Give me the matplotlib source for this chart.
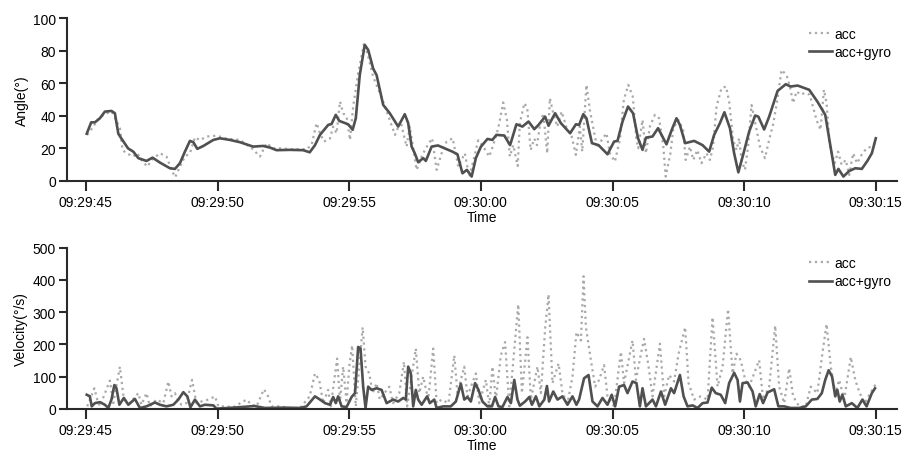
import matplotlib

matplotlib.use("Agg")
import matplotlib.dates as mdates
import matplotlib.pyplot as plt
import pandas as pd

plt.rcParams["font.family"] = ["Liberation Sans", "DejaVu Sans"]
plt.rcParams["font.size"] = 10

START = pd.Timestamp("2021-01-01 09:29:45")

# angle, acc+gyro (seconds after 09:29:45, degrees)
ang_fused_t = [0.03, 0.2, 0.34, 0.53, 0.72, 0.97, 1.1, 1.23, 1.35, 1.6, 1.8, 1.99, 2.3, 2.53,
               2.81, 3.19, 3.38, 3.57, 3.76, 3.95, 4.08, 4.23, 4.46, 4.84, 5.09, 5.47, 5.85,
               6.35, 6.73, 6.99, 7.24, 7.75, 8.25, 8.5, 8.7, 8.89, 9.2, 9.33, 9.49, 9.62, 9.77,
               9.96, 10.13, 10.25, 10.4, 10.59, 10.72, 10.91, 11.04, 11.29, 11.54, 11.86,
               12.11, 12.24, 12.37, 12.49, 12.62, 12.81, 12.91, 13.13, 13.37, 13.92, 14.11,
               14.3, 14.47, 14.65, 14.81, 15.0, 15.25, 15.44, 15.59, 15.89, 16.11, 16.35,
               16.58, 16.81, 17.03, 17.19, 17.44, 17.57, 17.82, 18.04, 18.39, 18.61, 18.73,
               18.89, 19.01, 19.22, 19.47, 19.81, 20.06, 20.19, 20.38, 20.59, 20.78, 20.97,
               21.14, 21.27, 21.52, 21.73, 22.05, 22.25, 22.43, 22.56, 22.76, 23.1, 23.42,
               23.67, 23.86, 24.08, 24.25, 24.46, 24.62, 24.78, 24.96, 25.19, 25.42, 25.54,
               25.76, 25.95, 26.27, 26.58, 26.77, 27.03, 27.47, 27.78, 28.08, 28.29, 28.46,
               28.58, 28.77, 28.99, 29.22, 29.47, 29.68, 29.85, 30.0]
ang_fused_v = [29, 36, 36, 38.5, 42.6, 43, 41.6, 29, 26, 20, 18, 14, 12.3, 14.3,
               11.3, 7.8, 7.4, 10.9, 18, 24.6, 23.8, 19.7, 21.5, 25.2, 26.2, 25.2, 23.8,
               21.1, 21.5, 20.5, 18.9, 19.1, 18.9, 17.6, 22, 28.3, 34.4, 35, 40.6, 36.9, 36,
               34.8, 31.4, 38.5, 65, 83.6, 80.5, 69, 65, 46.7, 41.6, 33.4,
               41, 35.5, 21.1, 17, 11.5, 14, 12.3, 21.1, 21.8, 18, 16.4,
               4.7, 6.8, 2.7, 14, 21, 25.8, 25.2, 28.3, 27.9, 22, 34.8,
               33.4, 36.5, 31.8, 34.4, 39.5, 34, 41.6, 35.5, 29.3, 34.8, 34.4,
               41, 38.5, 23.2, 22, 16.4, 24.2, 24.6, 36.5, 45.7, 41.6, 26.2,
               19.1, 26.6, 27.3, 32.4, 22.5, 31.4, 38.5, 34.4, 23.2, 24.6, 22,
               18, 28.3, 35.5, 42.2, 32.4, 17, 5.3, 16, 30.3, 40.2, 39.5,
               31.6, 39.5, 55.3, 59.4, 58, 58.6, 56, 48.8, 40.6, 20, 3.7,
               7.4, 2.7, 6.1, 7.8, 7.4, 12.3, 17, 26.2]

# angle, acc only
ang_acc_t = [0.05, 0.28, 0.47, 0.7, 0.98, 1.17, 1.29, 1.39, 1.54, 1.8, 1.95, 2.11, 2.33, 2.5,
             2.81, 3.06, 3.25, 3.39, 3.57, 3.76, 3.95, 4.14, 4.33, 4.58, 4.96, 5.34, 5.85,
             6.3, 6.61, 6.86, 7.11, 7.37, 7.8, 8.38, 8.57, 8.76, 8.89, 9.04, 9.27, 9.39,
             9.52, 9.65, 9.77, 9.9, 10.03, 10.15, 10.34, 10.57, 10.72, 10.91, 11.29, 11.74,
             11.95, 12.18, 12.3, 12.56, 12.75, 12.91, 13.15, 13.32, 13.51, 13.7, 13.93,
             14.14, 14.39, 14.56, 14.74, 14.9, 15.09, 15.32, 15.47, 15.66, 15.85, 15.99,
             16.1, 16.23, 16.4, 16.48, 16.65, 16.76, 16.89, 17.03, 17.13, 17.24, 17.37,
             17.52, 17.62, 17.75, 17.9, 18.07, 18.26, 18.45, 18.61, 18.76, 18.85, 19.01,
             19.14, 19.27, 19.42, 19.59, 19.77, 19.9, 20.09, 20.28, 20.43, 20.6, 20.77,
             20.91, 20.98, 21.14, 21.27, 21.42, 21.61, 21.77, 21.93, 22.02, 22.2, 22.31,
             22.5, 22.68, 22.78, 22.94, 23.07, 23.22, 23.38, 23.57, 23.7, 23.82, 23.95,
             24.14, 24.31, 24.43, 24.58, 24.71, 24.81, 24.9, 25.03, 25.15, 25.28, 25.41,
             25.6, 25.79, 25.92, 26.11, 26.26, 26.42, 26.61, 26.74, 26.86, 26.99, 27.14,
             27.3, 27.49, 27.75, 27.9, 28.03, 28.13, 28.25, 28.44, 28.57, 28.7, 28.86,
             28.99, 29.14, 29.29, 29.46, 29.65, 29.84, 29.97]
ang_acc_v = [28.3, 33.4, 38, 41, 42.6, 36.5, 32.4, 19, 17, 15, 17, 12.9, 8.8, 12.9,
             17, 15, 6.8, 2.3, 8.8, 15, 17, 26.8, 25, 27.3, 27.8, 26, 25.2,
             20.1, 15, 23.2, 20.1, 20, 19.5, 19.5, 22, 35.5, 29.3, 24.2, 26, 33.4,
             29.3, 48.8, 41.6, 39.5, 25.2, 45.7, 66.2, 85, 76.5, 64, 48.8, 28.3,
             36.5, 21.1, 33.4, 6.8, 15, 20.1, 26.2, 6.8, 17, 24.2, 26.2,
             8.8, 17, 2.7, 14, 25, 21.1, 15, 22, 32.4, 48.2, 37.5,
             15, 22, 9.2, 35.5, 47.8, 45, 19, 26, 22, 33.4, 41.6,
             17, 50.8, 41.6, 33.4, 42.6, 32.4, 27.3, 16, 33.4, 18, 59,
             43.6, 32.4, 20.1, 25.2, 29.3, 17, 11.9, 25.2, 49.8, 59, 51.8,
             25.2, 20.1, 37.5, 17, 33.4, 40.6, 38.5, 21.1, 2.7, 17, 32.4,
             37.5, 31.4, 12.9, 21.1, 12.9, 19, 10.9, 17, 12.9, 21.1, 45.7,
             57, 58, 48.8, 25.2, 19, 26.2, 12.9, 6.8, 21.1, 46.7, 36.5,
             21.1, 14, 23.2, 35.5, 49.8, 68.2, 65, 58, 47.8, 55, 53,
             54, 53, 37.5, 31.4, 56, 47.8, 22, 10.9, 18, 10, 12.9,
             3.7, 17, 10.9, 16, 20.1, 21.1, 23.2]

# angular velocity, acc+gyro (deg/s)
vel_fused_t = [0.03, 0.15, 0.22, 0.34, 0.53, 0.72, 0.85, 0.97, 1.08, 1.16, 1.27, 1.44, 1.61,
               1.86, 2.05, 2.3, 2.62, 2.81, 3.06, 3.32, 3.51, 3.7, 3.85, 3.97, 4.14, 4.33,
               4.52, 4.84, 4.96, 5.6, 6.4, 6.8, 7.5, 8.13, 8.38, 8.7, 8.89, 9.08, 9.27, 9.39,
               9.49, 9.58, 9.71, 9.9, 10.09, 10.22, 10.34, 10.43, 10.53, 10.62, 10.72,
               10.85, 11.04, 11.23, 11.42, 11.67, 11.86, 12.05, 12.15, 12.24, 12.34, 12.43,
               12.53, 12.62, 12.75, 12.96, 13.06, 13.23, 13.32, 13.57, 13.86, 14.05, 14.24,
               14.37, 14.49, 14.62, 14.78, 14.91, 15.06, 15.25, 15.42, 15.54, 15.67, 15.82,
               16.01, 16.14, 16.27, 16.39, 16.48, 16.68, 16.84, 16.94, 17.09, 17.22, 17.41,
               17.51, 17.59, 17.75, 17.91, 18.1, 18.29, 18.48, 18.63, 18.73, 18.92, 19.09,
               19.24, 19.43, 19.62, 19.81, 19.97, 20.1, 20.25, 20.44, 20.57, 20.76, 20.91,
               21.04, 21.14, 21.27, 21.52, 21.65, 21.84, 22.0, 22.22, 22.34, 22.56, 22.7,
               22.85, 23.04, 23.23, 23.42, 23.61, 23.77, 23.92, 24.11, 24.28, 24.43, 24.62,
               24.75, 24.84, 24.94, 25.13, 25.32, 25.44, 25.59, 25.72, 25.89, 26.14, 26.3,
               26.52, 26.77, 27.09, 27.34, 27.57, 27.78, 27.95, 28.08, 28.21, 28.34, 28.46,
               28.54, 28.63, 28.73, 28.86, 29.09, 29.3, 29.49, 29.65, 29.85, 29.97]
vel_fused_v = [44, 39, 8, 18, 21, 13, 3, 29, 74, 64, 13, 34, 13,
               31, 3, 8, 20, 13, 8, 13, 29, 52, 39, 5, 29, 8,
               13, 11, 1, 4, 9, 3, 4, 3, 8, 39, 29, 18, 13, 37,
               18, 39, 8, 6, 37, 49, 192, 187, 69, 3, 69,
               59, 64, 59, 18, 29, 23, 34, 29, 131, 110, 8,
               59, 29, 13, 39, 18, 29, 3, 8, 8, 23, 78,
               29, 37, 23, 80, 59, 23, 8, 8, 37, 8, 6,
               37, 18, 90, 29, 10, 23, 37, 13, 39, 8, 29,
               71, 23, 54, 29, 39, 13, 39, 13, 29, 95, 105,
               23, 8, 34, 13, 44, 8, 69, 74, 49, 85, 80,
               8, 64, 8, 29, 8, 54, 13, 64, 49, 105, 39,
               8, 11, 3, 18, 20, 66, 49, 44, 18, 80, 112,
               90, 23, 80, 82, 54, 8, 46, 18, 51, 61, 8,
               8, 3, 3, 8, 29, 31, 49, 90, 120, 100, 39,
               59, 23, 44, 8, 18, 3, 29, 8, 49, 64]

# angular velocity, acc only
vel_acc_t = [0.05, 0.32, 0.43, 0.53, 0.91, 1.04, 1.29, 1.44, 1.67, 1.99, 2.11, 2.3, 2.43,
             2.68, 2.94, 3.13, 3.25, 3.38, 3.51, 3.63, 3.82, 4.03, 4.2, 4.39, 4.65, 4.9,
             5.03, 5.34, 5.59, 6.1, 6.29, 6.48, 6.76, 6.92, 7.05, 7.37, 7.75, 8.13, 8.5,
             8.7, 8.86, 9.01, 9.2, 9.3, 9.54, 9.65, 9.77, 9.9, 10.0, 10.11, 10.25, 10.51,
             10.62, 10.76, 10.89, 11.04, 11.16, 11.52, 11.67, 11.9, 12.08, 12.2, 12.53,
             12.66, 12.81, 13.0, 13.19, 13.32, 13.51, 13.77, 13.99, 14.11, 14.37, 14.49,
             14.81, 14.94, 15.19, 15.32, 15.44, 15.57, 15.76, 15.92, 16.08, 16.42, 16.56,
             16.77, 16.9, 17.15, 17.28, 17.44, 17.57, 17.72, 17.95, 18.1, 18.29, 18.48,
             18.63, 18.8, 18.9, 18.99, 19.18, 19.34, 19.49, 19.68, 19.81, 20.06, 20.32,
             20.44, 20.76, 20.89, 21.08, 21.2, 21.37, 21.52, 21.8, 21.96, 22.15, 22.34,
             22.51, 22.76, 22.89, 23.1, 23.35, 23.61, 23.8, 23.99, 24.18, 24.39, 24.56,
             24.71, 24.87, 25.04, 25.19, 25.38, 25.57, 25.72, 25.95, 26.18, 26.33, 26.52,
             26.71, 26.86, 27.09, 27.34, 27.53, 27.78, 27.97, 28.13, 28.29, 28.46, 28.61,
             28.8, 29.05, 29.22, 29.39, 29.58, 29.79, 30.02]
vel_acc_v = [8, 64, 29, 8, 88, 18, 131, 29, 18, 49, 13, 49, 8,
             29, 18, 85, 39, 49, 23, 13, 18, 90, 18, 23, 29, 39,
             8, 8, 5, 29, 13, 8, 61, 39, 8, 8, 3, 3, 39,
             110, 90, 18, 59, 8, 156, 23, 131, 18, 131, 197, 8, 253,
             131, 110, 49, 80, 29, 69, 18, 49, 146, 8, 187,
             49, 100, 29, 187, 18, 29, 18, 166, 49, 131, 39,
             110, 18, 90, 8, 131, 29, 166, 207, 8, 324, 49,
             222, 29, 131, 49, 248, 355, 80, 141, 49, 18, 100,
             238, 212, 411, 253, 151, 69, 90, 136, 39, 8, 177,
             80, 212, 90, 171, 217, 131, 39, 202, 39, 105, 85,
             171, 253, 80, 29, 39, 29, 284, 69, 131, 309, 110,
             171, 151, 90, 69, 110, 151, 29, 69, 258, 69, 18,
             126, 39, 8, 8, 69, 49, 171, 263, 131, 49, 90,
             29, 161, 90, 49, 18, 49, 80]


def _to_time(seconds):
    return START + pd.to_timedelta(seconds, unit="s")


def _style_axes(ax, ylim, yticks, ylabel):
    for side in ("top", "right"):
        ax.spines[side].set_visible(False)
    for side in ("left", "bottom"):
        ax.spines[side].set_linewidth(1.5)
        ax.spines[side].set_color("#2a2a2a")
    ax.set_xlim(_to_time(-0.72), _to_time(30.8))
    ax.set_ylim(*ylim)
    ax.set_yticks(yticks)
    ax.xaxis.set_major_locator(mdates.SecondLocator(bysecond=range(0, 60, 5)))
    ax.xaxis.set_major_formatter(mdates.DateFormatter("%H:%M:%S"))
    ax.tick_params(axis="x", length=7, width=1.5, color="#2a2a2a", pad=3)
    ax.tick_params(axis="y", length=6, width=1.5, color="#2a2a2a", pad=2)
    ax.set_xlabel("Time", labelpad=0.5)
    ax.set_ylabel(ylabel, labelpad=3)
    ax.legend(loc="upper right", bbox_to_anchor=(1.0, 0.98), frameon=False,
              handlelength=1.6, handletextpad=0.2, labelspacing=0.3, borderaxespad=0)


fig = plt.figure(figsize=(9.05, 4.56), dpi=100)
ax1 = fig.add_axes([0.074, 0.601, 0.917, 0.357])
ax2 = fig.add_axes([0.074, 0.101, 0.917, 0.354])

ax1.plot(_to_time(ang_acc_t), ang_acc_v, color="#a9a9a9", lw=1.6, ls=":", label="acc")
ax1.plot(_to_time(ang_fused_t), ang_fused_v, color="#505050", lw=1.9, label="acc+gyro")
_style_axes(ax1, (0, 100), range(0, 101, 20), "Angle(°)")

ax2.plot(_to_time(vel_acc_t), vel_acc_v, color="#a9a9a9", lw=1.6, ls=":", label="acc")
ax2.plot(_to_time(vel_fused_t), vel_fused_v, color="#505050", lw=1.9, label="acc+gyro")
_style_axes(ax2, (0, 500), range(0, 501, 100), "Velocity(°/s)")

fig.savefig("out.png", dpi=100)
